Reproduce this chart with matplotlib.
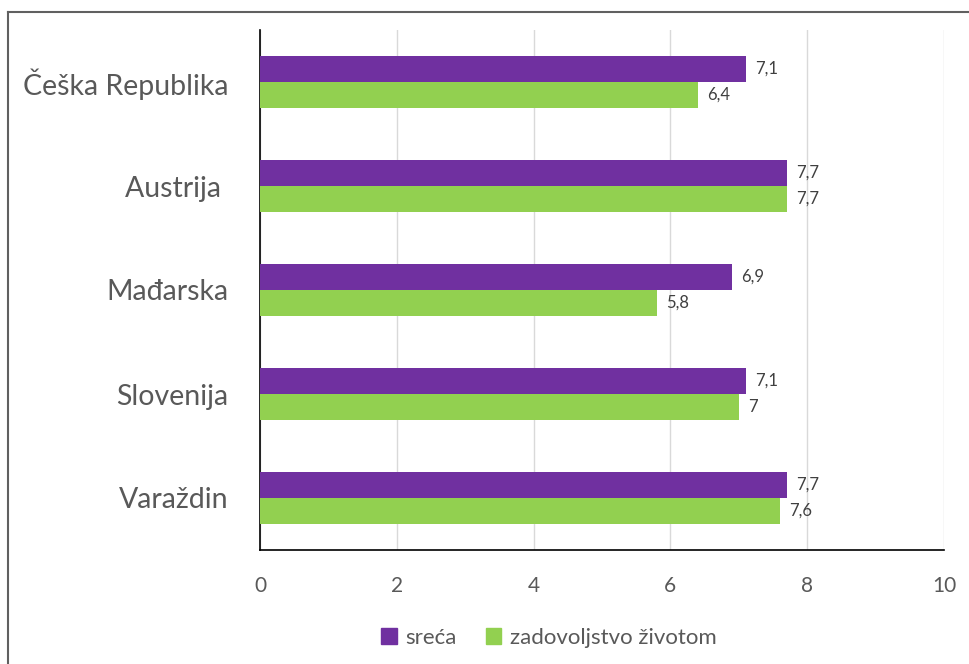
import matplotlib
matplotlib.use("Agg")
import matplotlib.pyplot as plt
from matplotlib.lines import Line2D
import numpy as np

categories = ["Češka Republika", "Austrija ", "Mađarska", "Slovenija", "Varaždin"]
sreca = [7.1, 7.7, 6.9, 7.1, 7.7]
zadovoljstvo = [6.4, 7.7, 5.8, 7, 7.6]
sreca_labels = ["7,1", "7,7", "6,9", "7,1", "7,7"]
zadov_labels = ["6,4", "7,7", "5,8", "7", "7,6"]
series_names = ["sreća", "zadovoljstvo životom"]
xticks = [0, 2, 4, 6, 8, 10]

PURPLE = "#7030A0"
GREEN = "#92D050"
TXT = "#595959"

plt.rcParams['font.family'] = ['Lato', 'DejaVu Sans']

W, H = 970, 664
fig = plt.figure(figsize=(9.7, 6.64), dpi=100)
ax = fig.add_axes([260 / W, 1 - 550 / H, (944 - 260) / W, (550 - 30) / H])

y = np.arange(len(categories))
h = 0.25
ax.barh(y - h / 2, sreca, height=h, color=PURPLE, label=series_names[0], zorder=3)
ax.barh(y + h / 2, zadovoljstvo, height=h, color=GREEN, label=series_names[1], zorder=3)

for i in range(len(categories)):
    ax.text(sreca[i] + 0.14, y[i] - h / 2, sreca_labels[i], va="center", ha="left",
            fontsize=12, color="#404040")
    ax.text(zadovoljstvo[i] + 0.14, y[i] + h / 2, zadov_labels[i], va="center", ha="left",
            fontsize=12, color="#404040")

ax.set_xlim(0, 10)
ax.set_ylim(len(categories) - 0.5, -0.5)
ax.set_xticks(xticks)
ax.set_xticklabels([str(t) for t in xticks], fontsize=15, color=TXT)
ax.set_yticks(y)
ax.set_yticklabels(categories, fontsize=20.5, color=TXT)
ax.tick_params(axis="both", length=0)
ax.tick_params(axis="y", pad=23)
ax.tick_params(axis="x", pad=19)
ax.grid(axis="x", color="#D9D9D9", linewidth=1, zorder=0)
for s in ["top", "right"]:
    ax.spines[s].set_visible(False)
ax.spines["left"].set_color("black")
ax.spines["bottom"].set_color("black")
ax.spines["left"].set_linewidth(1.2)
ax.spines["bottom"].set_linewidth(1.2)

handles = [plt.Rectangle((0, 0), 1, 1, color=PURPLE), plt.Rectangle((0, 0), 1, 1, color=GREEN)]
fig.legend(handles, series_names, loc="center", bbox_to_anchor=(549 / W, 1 - 638 / H),
           ncol=2, frameon=False, fontsize=16, labelcolor=TXT, handlelength=0.7,
           handleheight=0.7, handletextpad=0.4, columnspacing=1.3)

# outer frame (top and left edges visible)
fig.add_artist(Line2D([8.5 / W, 1], [1 - 11.5 / H, 1 - 11.5 / H], transform=fig.transFigure,
                      color="#606060", linewidth=1.5))
fig.add_artist(Line2D([8.5 / W, 8.5 / W], [0, 1 - 11.5 / H], transform=fig.transFigure,
                      color="#606060", linewidth=1.5))

fig.savefig("out.png", dpi=100)
